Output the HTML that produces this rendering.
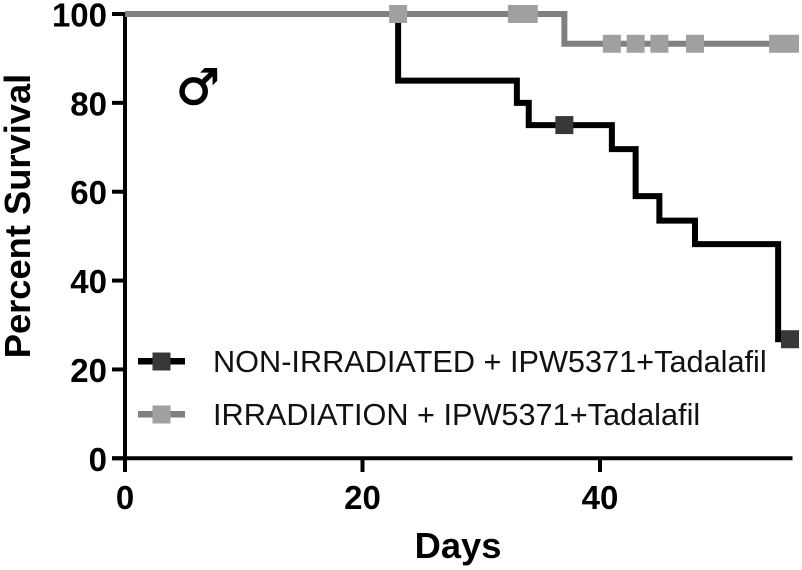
<!DOCTYPE html>
<html>
<head>
<meta charset="utf-8">
<title>Percent Survival</title>
<style>
html,body{margin:0;padding:0;background:#fff;}
svg{display:block;}
text{font-family:"Liberation Sans",sans-serif;fill:#000;}
.tick{font-size:33px;font-weight:bold;}
.title{font-size:36.3px;font-weight:bold;}
.leg{font-size:30.7px;fill:#111;}
</style>
</head>
<body>
<svg id="chart" width="802" height="570" viewBox="0 0 802 570" xmlns="http://www.w3.org/2000/svg">
<g id="series"></g>
<g id="axes"></g>
<text x="198" y="104" text-anchor="middle" stroke="#000" stroke-width="1.2" style="font-family:'DejaVu Sans',sans-serif;font-size:49px;font-weight:bold;">♂</text>
<text class="title" x="30" y="216" text-anchor="middle" transform="rotate(-90 30 216)">Percent Survival</text>
<text class="title" x="458" y="558" text-anchor="middle">Days</text>
<g>
<g>
<rect x="138" y="358" width="47" height="6.5" fill="#000"/>
<rect x="152.5" y="352.5" width="18" height="18" fill="#383838"/>
<text class="leg" x="213" y="372">NON-IRRADIATED + IPW5371+Tadalafil</text>
</g>
<g>
<rect x="138" y="411" width="47" height="6.5" fill="#808080"/>
<rect x="152.5" y="405.5" width="18" height="18" fill="#a0a0a0"/>
<text class="leg" x="213" y="425">IRRADIATION + IPW5371+Tadalafil</text>
</g>
</g>
</svg>
<script>
var xTicks = [0, 20, 40];
var yTicks = [0, 20, 40, 60, 80, 100];
var blackDays = [0, 23, 33, 34, 41, 43, 45, 48, 55, 56];
var blackSurvival = [100, 85, 80, 75, 69.6, 59, 53.5, 48.2, 26.8, 26.8];
var blackCensored = [37, 56];
var grayDays = [0, 37, 56];
var graySurvival = [100, 93.3, 93.3];
var grayCensored = [23, 33, 34, 41, 43, 45, 48, 55, 56];

var NS = 'http://www.w3.org/2000/svg';
function sx(d) { return 125 + d * 11.875; }
function sy(v) { return 458.3 - v * 4.443; }
function make(tag, attrs, parent) {
  var el = document.createElementNS(NS, tag);
  for (var k in attrs) { el.setAttribute(k, attrs[k]); }
  parent.appendChild(el);
  return el;
}
function stepPath(days, vals) {
  var d = 'M' + sx(days[0]) + ' ' + sy(vals[0]);
  for (var i = 1; i < days.length; i++) {
    d += 'H' + sx(days[i]) + 'V' + sy(vals[i]);
  }
  return d;
}
function valueAt(days, vals, day) {
  var v = vals[0];
  for (var i = 0; i < days.length; i++) {
    if (days[i] <= day) { v = vals[i]; }
  }
  return v;
}
var series = document.getElementById('series');
var axes = document.getElementById('axes');

var blackLine = make('path', {d: stepPath(blackDays, blackSurvival), fill: 'none', stroke: '#000', 'stroke-width': 6, 'stroke-linejoin': 'miter'}, series);



var axisColor = '#000';
var yAxis = make('line', {x1: sx(0), x2: sx(0), y1: sy(100) - 2, y2: 472, stroke: axisColor, 'stroke-width': 4}, axes);


var xAxis = make('line', {x1: 112, x2: 792.5, y1: sy(0), y2: sy(0), stroke: axisColor, 'stroke-width': 4}, axes);



yTicks.forEach(function (v) {
  var t = make('line', {x1: 112, x2: sx(0), y1: sy(v), y2: sy(v), stroke: axisColor, 'stroke-width': 4}, axes);
  
  
  var l = make('text', {x: 107, y: sy(v) + 12.5, 'text-anchor': 'end', 'class': 'tick'}, axes);
  
  
  l.textContent = v;
});
xTicks.forEach(function (v) {
  var t = make('line', {x1: sx(v), x2: sx(v), y1: sy(0), y2: 472, stroke: axisColor, 'stroke-width': 4}, axes);
  
  
  var l = make('text', {x: sx(v), y: 509, 'text-anchor': 'middle', 'class': 'tick'}, axes);
  
  
  l.textContent = v;
});

blackCensored.forEach(function (d) {
  var m = make('rect', {x: sx(d) - 9, y: sy(valueAt(blackDays, blackSurvival, d)) - 9, width: 18, height: 18, fill: '#383838'}, axes);
  
  
});

var grayLine = make('path', {d: stepPath(grayDays, graySurvival), fill: 'none', stroke: '#808080', 'stroke-width': 6, 'stroke-linejoin': 'miter'}, axes);



grayCensored.forEach(function (d) {
  var m = make('rect', {x: sx(d) - 9, y: sy(valueAt(grayDays, graySurvival, d)) - 9, width: 18, height: 18, fill: '#a0a0a0'}, axes);
  
  
});
</script>
</body>
</html>
